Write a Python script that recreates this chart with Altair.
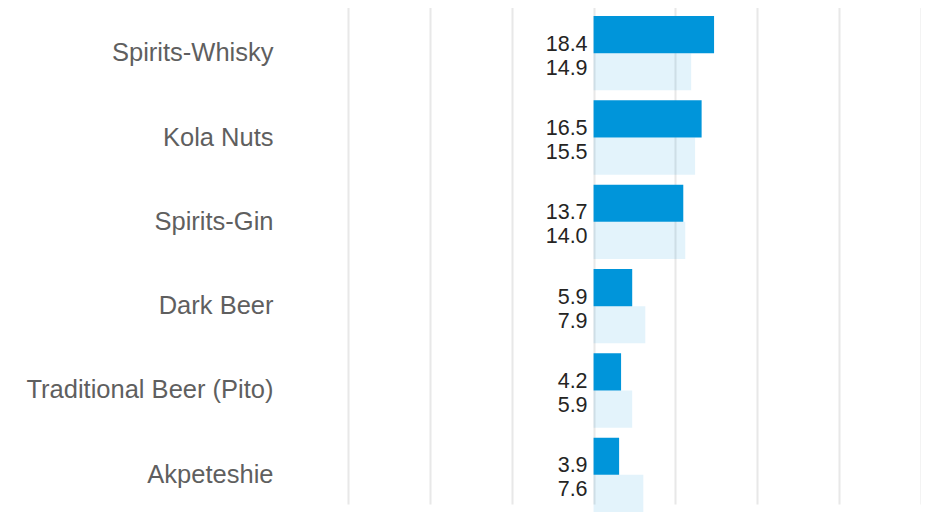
import altair as alt
import pandas as pd

categories = ["Spirits-Whisky", "Kola Nuts", "Spirits-Gin", "Dark Beer",
              "Traditional Beer (Pito)", "Akpeteshie"]
current_values = [18.4, 16.5, 13.7, 5.9, 4.2, 3.9]
previous_values = [14.9, 15.5, 14.0, 7.9, 5.9, 7.6]
series_names = ["Current", "Previous"]
grid_ticks = [-37.5, -25, -12.5, 0, 12.5, 25, 37.5, 50]

rows = []
for c, a, b in zip(categories, current_values, previous_values):
    rows.append({"category": c, "series": series_names[0], "value": a})
    rows.append({"category": c, "series": series_names[1], "value": b})
df = pd.DataFrame(rows)

FONT = "Liberation Sans"
BLUE = "#0095DA"

x_scale = alt.Scale(domain=[grid_ticks[0], grid_ticks[-1]], nice=False, zero=False)
y_scale = alt.Scale(range=[0, 512], paddingInner=10 / 84, paddingOuter=8 / 84)

y_enc = alt.Y(
    "category:N", sort=categories, scale=y_scale, title=None,
    axis=alt.Axis(labelFontSize=25.5, labelColor="#5F5F5F", labelFont=FONT,
                  labelPadding=75, ticks=False, domain=False, labelLimit=400,
                  grid=False),
)
yoff_enc = alt.YOffset("series:N", sort=series_names,
                       scale=alt.Scale(paddingInner=0, paddingOuter=0))

base = alt.Chart(df)

bars = base.mark_bar(color=BLUE).encode(
    x=alt.X("value:Q", scale=x_scale, title=None,
            axis=alt.Axis(values=grid_ticks, labels=False, ticks=False,
                          domain=False, grid=True, gridColor="#E8E8E8",
                          gridWidth=2)),
    y=y_enc,
    yOffset=yoff_enc,
    opacity=alt.Opacity("series:N", sort=series_names,
                        scale=alt.Scale(domain=series_names, range=[1, 0.11]),
                        legend=None),
)

def label_layer(series, dy):
    return base.transform_filter(alt.datum.series == series).transform_calculate(
        zero="0"
    ).mark_text(
        align="right", baseline="alphabetic", dx=-6, dy=dy,
        fontSize=21.5, font=FONT, color="#252423"
    ).encode(
        x=alt.X("zero:Q", scale=x_scale),
        y=alt.Y("category:N", sort=categories, scale=y_scale),
        yOffset=yoff_enc,
        text=alt.Text("value:Q", format=".1f"),
    )

chart = alt.layer(
    bars, label_layer(series_names[0], 16), label_layer(series_names[1], 3)
).properties(
    width=573, height=496,
    padding={"left": 17, "top": 0, "right": 0, "bottom": 0},
).configure_view(stroke=None)

chart.save("out.html", embed_options={"renderer": "svg", "actions": False})
